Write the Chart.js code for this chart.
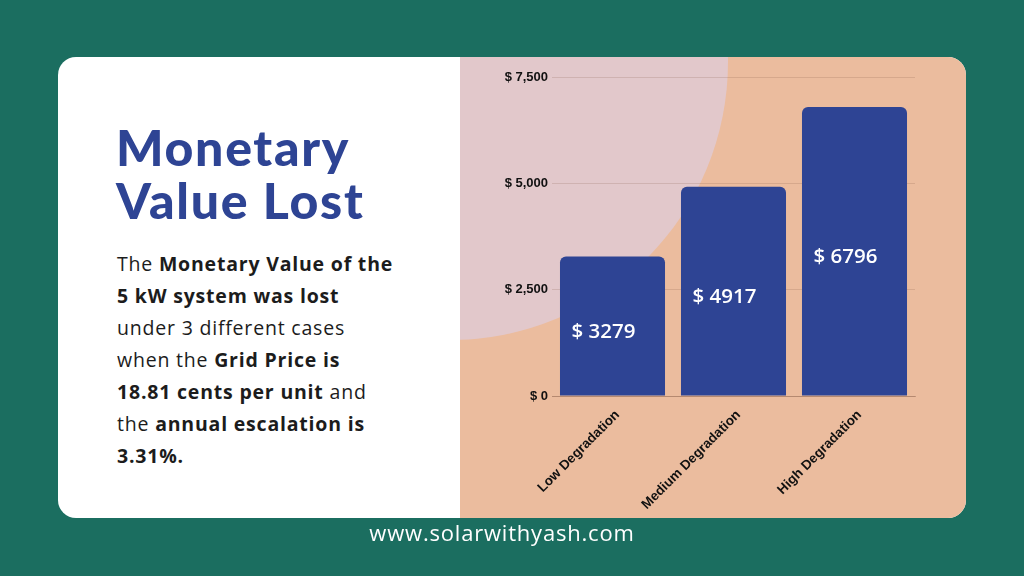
<!DOCTYPE html>
<html>
<head>
<meta charset="utf-8">
<script src="https://cdn.jsdelivr.net/npm/chart.js@4.4.1/dist/chart.umd.min.js"></script>
<style>
  html, body { margin: 0; padding: 0; }
  body { width: 1024px; height: 576px; background: #1b6e60; position: relative; overflow: hidden; font-family: 'Lato', sans-serif; }
  .card { position: absolute; left: 58px; top: 57px; width: 908px; height: 461px; background: #ffffff; border-radius: 18px; overflow: hidden; }
  .panel { position: absolute; left: 402px; top: 0; width: 506px; height: 461px; background: #ebbc9e; overflow: hidden; }
  .blob { position: absolute; left: -288px; top: -273px; width: 556px; height: 556px; border-radius: 50%; background: #e2c8cb; }
  .title { position: absolute; left: 58px; top: 64px; margin: 0; font-family: 'Lato', sans-serif; font-weight: 900; font-size: 50px; line-height: 53px; color: #2e4494; letter-spacing: 1.7px; }
  .body { position: absolute; left: 59px; top: 191px; margin: 0; font-family: 'Open Sans', sans-serif; font-size: 19.5px; line-height: 32px; color: #1c1c1c; letter-spacing: 0.8px; }
  .body b { font-weight: 700; }
  #wrap { position: absolute; left: 460px; top: 57px; width: 506px; height: 461px; }
  .footer { position: absolute; left: 0; width: 1004px; top: 517px; text-align: center; color: #ffffff; font-family: 'Open Sans', sans-serif; font-size: 22px; letter-spacing: 0.8px; }
</style>
</head>
<body>
<div class="card">
  <div class="panel"><div class="blob"></div></div>
  <h1 class="title">Monetary<br>Value Lost</h1>
  <p class="body">The <b>Monetary Value of the<br>5 kW system was lost</b><br>under 3 different cases<br>when the <b>Grid Price is<br>18.81 cents per unit</b> and<br>the <b>annual escalation is<br>3.31%.</b></p>
</div>
<div id="wrap"><canvas id="lostChart"></canvas></div>
<div class="footer">www.solarwithyash.com</div>

<script>
// chart data
const categories = ['Low Degradation', 'Medium Degradation', 'High Degradation'];
const valueLost = [3279, 4917, 6796];
const tickValues = [0, 2500, 5000, 7500];

// white "$ 1234" labels inside the bars
const barLabels = {
    id: 'barLabels',
    afterDatasetsDraw(chart) {
        const ctx = chart.ctx;
        const meta = chart.getDatasetMeta(0);
        ctx.save();
        ctx.fillStyle = '#ffffff';
        ctx.font = '600 20.5px "Open Sans", sans-serif';
        ctx.textAlign = 'center';
        ctx.textBaseline = 'middle';
        meta.data.forEach(function(bar, i) {
            let mid = (bar.y + bar.base) / 2 + 6;
            ctx.fillText('$ ' + valueLost[i], bar.x - 9, mid);
        });
        ctx.restore();
    }
};

const ctx = document.getElementById('lostChart');
const chart = new Chart(ctx, {
    type: 'bar',
    data: {
        labels: categories,
        datasets: [
            {
                data: valueLost,
                backgroundColor: '#2e4494',
                borderRadius: 6,
                borderSkipped: 'start',
                categoryPercentage: 0.868,
                barPercentage: 1.0
            }
        ]
    },
    options: {
        responsive: true,
        maintainAspectRatio: false,
        animation: false,
        layout: {
            padding: { top: 20, right: 51, bottom: 0, left: 0 }
        },
        plugins: {
            legend: { display: false },
            tooltip: { enabled: false }
        },
        scales: {
            x: {
                grid: { display: false },
                border: { display: true, color: 'rgba(120, 80, 60, 0.35)' },
                ticks: {
                    color: '#111111',
                    font: { family: '"Liberation Sans", Arial, sans-serif', weight: 'bold', size: 13.5 },
                    minRotation: 45,
                    maxRotation: 45,
                    labelOffset: 5,
                    padding: 3
                },
                afterFit(scale) { scale.height = 122; }
            },
            y: {
                min: 0,
                max: 7500,
                afterBuildTicks(scale) {
                    scale.ticks = tickValues.map(v => ({ value: v }));
                },
                grid: { color: 'rgba(120, 80, 60, 0.18)', drawTicks: false },
                border: { display: false },
                ticks: {
                    color: '#111111',
                    padding: 4,
                    font: { family: '"Liberation Sans", Arial, sans-serif', weight: 'bold', size: 13 },
                    callback: function(value) {
                        return '$ ' + value.toLocaleString('en-US');
                    }
                },
                afterFit(scale) { scale.width = 92; }
            }
        }
    },
    plugins: [barLabels]
});
</script>
</body>
</html>
